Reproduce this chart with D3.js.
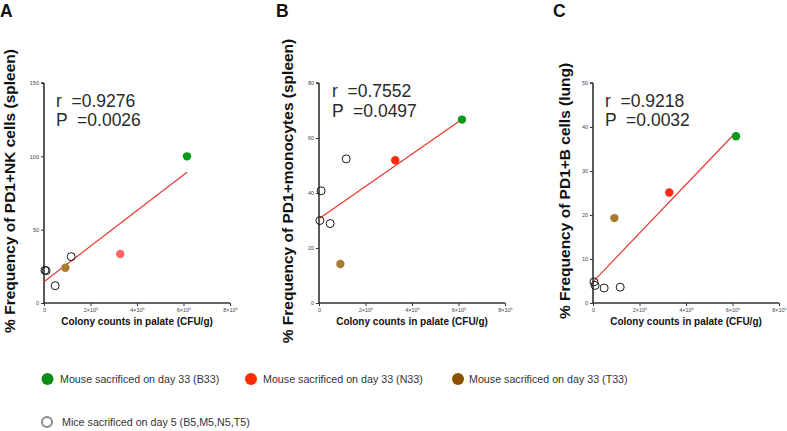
<!DOCTYPE html>
<html><head><meta charset="utf-8">
<script src="https://cdn.jsdelivr.net/npm/d3@7"></script>
<style>
body{margin:0;background:#fff}
svg{display:block}
text{font-family:"Liberation Sans",Arial,Helvetica,sans-serif}
</style>
</head><body>
<svg id="chart" width="787" height="431"></svg>
<script>
// ---------- data ----------
const panelLetters = ["A", "B", "C"];
const yLabels = [
  "% Frequency of PD1+NK cells (spleen)",
  "% Frequency of PD1+monocytes (spleen)",
  "% Frequency of PD1+B cells (lung)"
];
const xLabel = "Colony counts in palate (CFU/g)";
const xTicks = [0, 2e6, 4e6, 6e6, 8e6];
const xTickLabels = ["0", "2×10⁶", "4×10⁶", "6×10⁶", "8×10⁶"];
const yMaxes = [150, 80, 50];
const yTicksA = [0, 50, 100, 150];
const yTicksB = [0, 20, 40, 60, 80];
const yTicksC = [0, 10, 20, 30, 40, 50];

const day33Groups = ["B33", "N33", "T33"];
const day33X = [6.15e6, 3.28e6, 0.92e6];
const day5X = [0.04e6, 0.09e6, 0.48e6, 1.17e6];

const day33A = [100, 33.4, 24];
const day5A = [22.3, 22.0, 11.8, 31.6];
const day33B = [66.7, 51.9, 14.2];
const day5B = [30.0, 40.8, 28.9, 52.4];
const day33C = [37.9, 25.1, 19.3];
const day5C = [4.8, 4.0, 3.4, 3.6];

// regression line end points [x, y]
const fitA = [[0.0, 14.5], [6.15e6, 89.1]];
const fitB = [[0.03e6, 30.8], [6.15e6, 66.8]];
const fitC = [[0.05e6, 5.1], [6.15e6, 38.8]];

const rValues = ["0.9276", "0.7552", "0.9218"];
const pValues = ["0.0026", "0.0497", "0.0032"];

const legendLabels = [
  "Mouse sacrificed on day 33 (B33)",
  "Mouse sacrificed on day 33 (N33)",
  "Mouse sacrificed on day 33 (T33)",
  "Mice sacrificed on day 5 (B5,M5,N5,T5)"
];

// ---------- layout / style ----------
const layout = [
  {x0: 44,  x1: 230, yT: 83, yB: 303, letterX: 0,   labX: 9,   statX: 56,  statY: 106.5},
  {x0: 319, x1: 505, yT: 83, yB: 303, letterX: 276, labX: 287, statX: 332, statY: 97},
  {x0: 593, x1: 779, yT: 83, yB: 303, letterX: 553, labX: 564, statX: 605, statY: 106.5}
];
const yTicksAll = [yTicksA, yTicksB, yTicksC];
const day33All = [day33A, day33B, day33C];
const day5All = [day5A, day5B, day5C];
const fitsAll = [fitA, fitB, fitC];
const dotColors = [
  ["#0a9a1a", "#ff6464", "#a87c2e"],
  ["#0a9a1a", "#ff2a12", "#a87c2e"],
  ["#0a9a1a", "#ff2a12", "#a87c2e"]
];
const legendColors = ["#0a8c14", "#ff2a00", "#8b4f00"];

const svg = d3.select("#chart");

layout.forEach((L, i) => {
  const g = svg.append("g");
  const x = d3.scaleLinear().domain([0, 8e6]).range([L.x0, L.x1]);
  const y = d3.scaleLinear().domain([0, yMaxes[i]]).range([L.yB, L.yT]);

  // panel letter
  g.append("text").attr("x", L.letterX).attr("y", 17)
    .attr("font-size", 17.5).attr("font-weight", "bold").attr("fill", "#111")
    .text(panelLetters[i]);

  // axes
  const xAxis = d3.axisBottom(x).tickValues(xTicks)
    .tickFormat((d, k) => xTickLabels[k]).tickSize(3).tickPadding(2);
  const yAxis = d3.axisLeft(y).tickValues(yTicksAll[i]).tickSize(3).tickPadding(2);
  const gx = g.append("g").attr("transform", `translate(0,${L.yB})`).call(xAxis);
  const gy = g.append("g").attr("transform", `translate(${L.x0},0)`).call(yAxis);
  [gx, gy].forEach(a => {
    a.select(".domain").attr("stroke", "#333").attr("stroke-width", 1.6);
    a.selectAll(".tick line").attr("stroke", "#333").attr("stroke-width", 1);
    a.selectAll(".tick text").attr("font-size", 5.5).attr("fill", "#444")
      .attr("font-family", '"Liberation Sans",Arial,sans-serif');
  });
  gy.select(".domain").attr("d", `M${-0},${L.yB}V${L.yT}M-3,${L.yT}H0`);
  gx.select(".domain").attr("d", `M${L.x0},0H${L.x1}`);

  // axis labels
  g.append("text")
    .attr("x", (L.x0 + L.x1) / 2).attr("y", 324.5)
    .attr("text-anchor", "middle").attr("font-size", 10).attr("font-weight", "bold")
    .attr("fill", "#111").text(xLabel);
  g.append("text")
    .attr("transform", `translate(${L.labX},191) rotate(-90)`)
    .attr("text-anchor", "middle").attr("dy", "0.36em")
    .attr("font-size", 15.5).attr("font-weight", "bold").attr("fill", "#111")
    .text(yLabels[i]);

  // stats text
  g.append("text").attr("x", L.statX).attr("y", L.statY)
    .attr("font-size", 17.5).attr("fill", "#2a2a2a").style("white-space", "pre")
    .text("r  =" + rValues[i]);
  g.append("text").attr("x", L.statX).attr("y", L.statY + 19.5)
    .attr("font-size", 17.5).attr("fill", "#2a2a2a").style("white-space", "pre")
    .text("P  =" + pValues[i]);

  // regression line
  g.append("path").datum(fitsAll[i])
    .attr("d", d3.line().x(d => x(d[0])).y(d => y(d[1])))
    .attr("stroke", "#e8392f").attr("stroke-width", 1.2).attr("fill", "none");

  // open circles (day 5)
  g.selectAll(".open").data(day5X.map((v, k) => [v, day5All[i][k]])).enter()
    .append("circle")
    .attr("cx", d => x(d[0])).attr("cy", d => y(d[1])).attr("r", 4)
    .attr("fill", "none").attr("stroke", "#1a1a1a").attr("stroke-width", 1);

  // closed circles (day 33)
  g.selectAll(".closed").data(day33X.map((v, k) => [v, day33All[i][k], k])).enter()
    .append("circle")
    .attr("cx", d => x(d[0])).attr("cy", d => y(d[1])).attr("r", 4.2)
    .attr("fill", d => dotColors[i][d[2]]);
});

// legend
const legendPos = [
  {cx: 47.5, tx: 60,  cy: 379},
  {cx: 251,  tx: 263, cy: 379},
  {cx: 458,  tx: 469, cy: 379},
  {cx: 47,   tx: 62,  cy: 422}
];
legendLabels.forEach((lab, k) => {
  const P = legendPos[k];
  if (k < 3) {
    svg.append("circle").attr("cx", P.cx).attr("cy", P.cy).attr("r", 6)
      .attr("fill", legendColors[k]);
  } else {
    svg.append("circle").attr("cx", P.cx).attr("cy", P.cy).attr("r", 5)
      .attr("fill", "none").attr("stroke", "#8a8a8a").attr("stroke-width", 2);
  }
  svg.append("text").attr("x", P.tx).attr("y", P.cy).attr("dy", "0.35em")
    .attr("font-size", 10.7).attr("fill", "#333").text(lab);
});
</script>
</body></html>
